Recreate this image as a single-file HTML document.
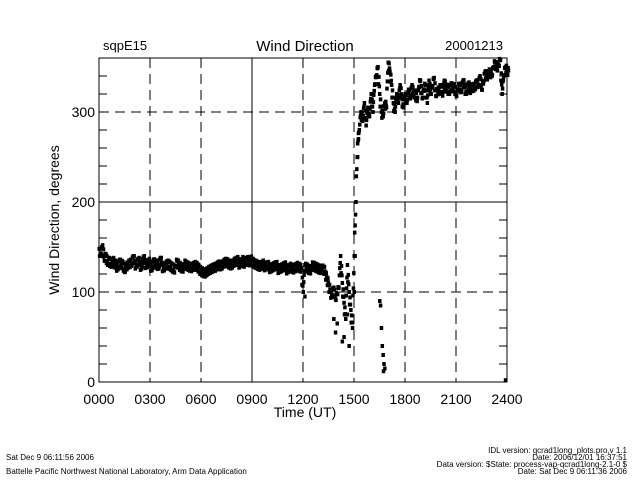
<!DOCTYPE html>
<html><head><meta charset="utf-8"><style>
body{margin:0;background:#fff;}
svg{display:block;font-family:"Liberation Sans",sans-serif;}
</style></head><body>
<svg id="chart" width="640" height="480" viewBox="0 0 640 480">
<text x="103" y="50" font-size="13">sqpE15</text>
<text x="305" y="51" font-size="15" text-anchor="middle">Wind Direction</text>
<text x="503" y="50" font-size="13" text-anchor="end">20001213</text>
<g id="grid"></g>
<g id="pts"></g>
<rect x="99" y="58" width="408" height="324" fill="none" stroke="#000" stroke-width="1"/>
<g id="ticks"></g>
<text x="305" y="417" font-size="14" text-anchor="middle">Time (UT)</text>
<text transform="translate(59,220) rotate(-90)" font-size="14" text-anchor="middle">Wind Direction, degrees</text>
<text x="6" y="460" font-size="8">Sat Dec  9 06:11:56 2006</text>
<text x="6" y="474" font-size="8">Battelle Pacific Northwest National Laboratory, Arm Data Application</text>
<text x="627" y="453" font-size="8" text-anchor="end">IDL version: qcrad1long_plots.pro,v 1.1</text>
<text x="627" y="460" font-size="8" text-anchor="end">Date: 2006/12/01 16:37:51</text>
<text x="627" y="467" font-size="8" text-anchor="end">Data version: $State: process-vap-qcrad1long-2.1-0 $</text>
<text x="627" y="474" font-size="8" text-anchor="end">Date: Sat Dec  9 06:11:36 2006</text>
</svg>
<script>
const xTickLabels=["0000","0300","0600","0900","1200","1500","1800","2100","2400"];
const xTickHours=[0,3,6,9,12,15,18,21,24];
const yTickValues=[0,100,200,300];
const step=0.1;
const values=[
148,140,152,135,142,130,138,128,136,132,
130,125,136,128,133,122,131,127,135,129,
140,132,128,137,131,126,139,133,128,135,
131,124,136,129,133,126,138,130,124,132,
128,134,125,131,122,129,135,127,130,124,
129,133,126,131,124,130,127,132,125,128,
120,125,118,124,121,127,123,129,125,130,
128,132,126,134,130,136,129,133,127,135,
131,137,133,129,136,134,130,138,132,135,
136,130,133,128,131,126,133,129,127,131,
128,124,130,126,132,127,123,129,125,131,
127,122,130,125,128,123,131,126,129,124,
100,130,125,128,122,127,131,126,129,124,
127,123,128,120,115,108,100,95,105,92,
98,105,140,110,88,70,130,100,80,60,
140,200,265,280,300,290,310,285,305,295,
320,300,330,340,350,320,300,295,310,305,
355,345,330,310,300,320,310,330,315,305,
320,310,325,315,330,318,322,312,328,335,
315,325,330,310,335,320,328,338,318,325,
322,330,318,335,325,328,320,332,324,330,
318,325,330,322,335,328,320,332,326,324,
330,325,335,328,340,325,332,345,338,342,
345,340,350,355,348,352,358,320,340,350,345];
const outlierTimes=[12.0,12.1,13.8,13.9,14.0,14.3,14.4,14.6,14.7,15.0,15.05,16.5,16.55,16.6,16.65,16.7,16.75,16.72,16.8,23.9,15.2,15.25];
const outlierValues=[100,95,70,55,65,45,50,75,40,100,140,90,85,60,40,30,20,12,15,2,250,270];
const NS="http://www.w3.org/2000/svg";
const X0=99,X1=507,Y0=382,Y1=58,XMAX=24,YMAX=360;
function xs(h){return X0+(X1-X0)*h/XMAX;}
function ys(v){return Y0-(Y0-Y1)*v/YMAX;}
function mk(tag,attrs,parent){const e=document.createElementNS(NS,tag);for(const k in attrs)e.setAttribute(k,attrs[k]);parent.appendChild(e);return e;}
const grid=document.getElementById('grid'),ticks=document.getElementById('ticks'),pts=document.getElementById('pts');
xTickHours.forEach((h,i)=>{
  if(h>0&&h<24){
    const l=mk('line',{x1:xs(h),x2:xs(h),y1:Y1,y2:Y0,stroke:'#000','stroke-width':1},grid);
    if(h!==9)l.setAttribute('stroke-dasharray','10,6');
    
    
  }
  const t=mk('text',{x:xs(h),y:Y0+22,'font-size':14,'text-anchor':'middle'},ticks);
  t.textContent=xTickLabels[i];
  
  
});
yTickValues.forEach(v=>{
  if(v>0){
    const l=mk('line',{x1:X0,x2:X1,y1:ys(v),y2:ys(v),stroke:'#000','stroke-width':1},grid);
    if(v!==200)l.setAttribute('stroke-dasharray','10,6');
    
    
  }
  const t=mk('text',{x:X0-4,y:ys(v)+5,'font-size':14,'text-anchor':'end'},ticks);
  t.textContent=v;
  
  
});
for(let v=20;v<YMAX;v+=20){
  const a=mk('line',{x1:X0,x2:X0+8,y1:ys(v),y2:ys(v),stroke:'#000'},ticks);
  
  
  const b=mk('line',{x1:X1-8,x2:X1,y1:ys(v),y2:ys(v),stroke:'#000'},ticks);
  
  
}
function dot(h,v){
  const r=mk('rect',{x:xs(h)-1.5,y:ys(v)-2,width:3.5,height:4,fill:'#000'},pts);
  
  
}
values.forEach((v,i)=>{
  const nx=values[i+1]!==undefined?values[i+1]:v;
  dot(i*step,v);
  dot(i*step+step/2,(v+nx)/2+4);
  dot(i*step+step/4,(v+nx)/2-4);
  dot(i*step+3*step/4,v+(nx-v)*0.75+1);
});
outlierTimes.forEach((h,i)=>dot(h,outlierValues[i]));
</script>
</body></html>
